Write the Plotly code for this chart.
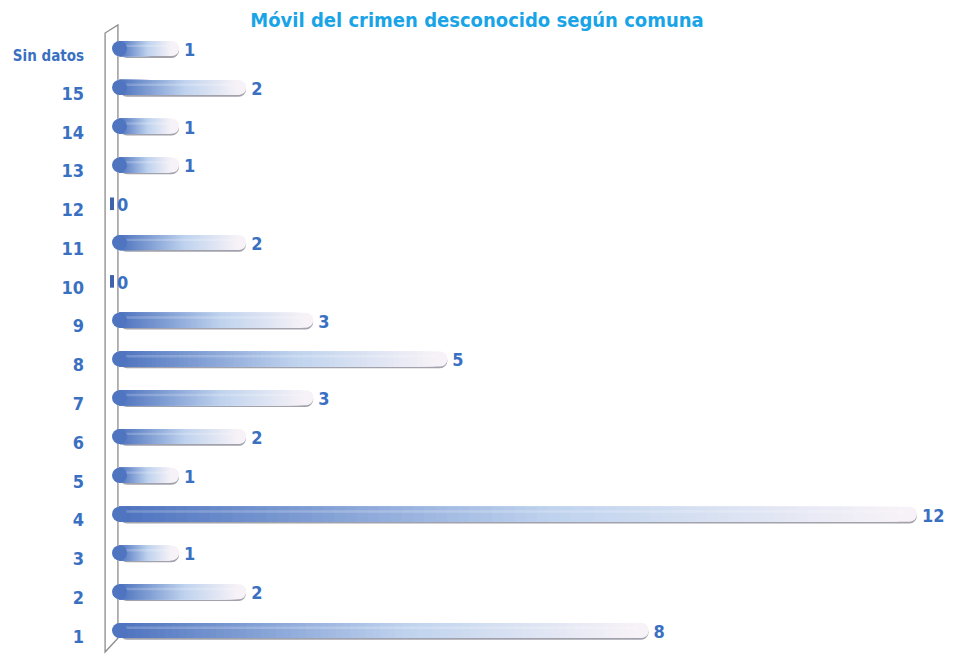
import plotly.graph_objects as go

categories = ["1", "2", "3", "4", "5", "6", "7", "8", "9", "10", "11", "12", "13", "14", "15", "Sin datos"]
values = [8, 2, 1, 12, 1, 2, 3, 5, 3, 0, 2, 0, 1, 1, 2, 1]
title_text = "Móvil del crimen desconocido según comuna"

label_color = "#3a70c2"
font_family = "DejaVu Sans Condensed, Liberation Sans Narrow, Arial Narrow, sans-serif"

dark = (76, 114, 190)
mid = (190, 210, 238)
light = (247, 242, 247)


def lerp(c1, c2, t):
    return tuple(round(a + (b - a) * t) for a, b in zip(c1, c2))


def grad(t):
    # t=0 -> left (dark), t=1 -> right (light)
    if t < 0.55:
        c = lerp(dark, mid, t / 0.55)
    else:
        c = lerp(mid, light, (t - 0.55) / 0.45)
    return "rgb(%d,%d,%d)" % c


# page is shown with an 8px body margin, so the figure is 8px smaller
W, H = 945, 646
ML, MR, MT, MB = 104, 18, 21, 5
XMAX = 12.27
PX = (W - ML - MR) / XMAX          # pixels per unit on x
R = 7.5 / PX                       # bar end radius in data units
YR = [-0.322, 15.66]
PY = (H - MT - MB) / (YR[1] - YR[0])
BW = 15 / PY                       # bar thickness
UP = 6 / PY                        # bars sit above the label line
SH = 1.8 / PY                      # shadow drop

pos = list(range(len(categories)))
ybar = [p + UP for p in pos]
nz = [v > 0 for v in values]
tick_text = [c if c.isdigit() else '<span style="font-size:15px">' + c + "</span>" for c in categories]

fig = go.Figure()
common = dict(orientation="h", showlegend=False, hoverinfo="skip")

# grey shadow
fig.add_trace(go.Bar(y=[y - SH for y in ybar], x=[v - R if v > 0 else 0 for v in values],
                     base=R, width=BW,
                     marker=dict(color="rgba(100,100,118,0.6)", cornerradius="50%", line=dict(width=0)),
                     **common))

# lightest full-length bar with rounded right end
fig.add_trace(go.Bar(y=ybar, x=[v - R if v > 0 else 0 for v in values], base=R, width=BW,
                     marker=dict(color=grad(1.0), cornerradius="50%", line=dict(width=0)),
                     **common))

# gradient steps (square ends, stop before the rounded tip)
N = 70
for k in range(1, N):
    frac = 1 - k / N
    fig.add_trace(go.Bar(y=ybar, x=[(v - 2 * R) * frac if v > 0 else 0 for v in values],
                         base=R, width=BW,
                         marker=dict(color=grad(frac), line=dict(width=0)),
                         **common))

# glossy highlight streak
fig.add_trace(go.Bar(y=[y + BW * 0.18 for y in ybar],
                     x=[(v - 3 * R) if v > 0 else 0 for v in values], base=1.5 * R,
                     width=BW * 0.16,
                     marker=dict(color="rgba(255,255,255,0.2)", cornerradius="50%", line=dict(width=0)),
                     **common))

# rounded left caps
fig.add_trace(go.Scatter(
    x=[R for v in values if v > 0], y=[y for y, f in zip(ybar, nz) if f],
    mode="markers", marker=dict(symbol="circle", size=15, color=grad(0.02), line=dict(width=0)),
    showlegend=False, hoverinfo="skip", cliponaxis=False,
))

# tiny edge-on mark for zero values
fig.add_trace(go.Scatter(
    x=[0.0 for v in values if v == 0], y=[y for y, f in zip(ybar, nz) if not f],
    mode="markers", marker=dict(symbol="line-ns", size=9, line=dict(width=4, color="#3f62aa")),
    showlegend=False, hoverinfo="skip", cliponaxis=False,
))

# value labels
fig.add_trace(go.Scatter(
    x=[v + 5 / PX for v in values], y=[y - 3 / PY for y in ybar], mode="text",
    text=[str(v) for v in values], textposition="middle right",
    textfont=dict(family=font_family, size=18, color=label_color, weight="bold"),
    cliponaxis=False, showlegend=False, hoverinfo="skip",
))

fig.update_layout(
    barmode="overlay",
    width=W, height=H,
    margin=dict(l=ML, r=MR, t=MT, b=MB, autoexpand=False),
    paper_bgcolor="white",
    plot_bgcolor="white",
    title=dict(text=title_text, x=469 / W, xref="container", xanchor="center",
               y=1 - 12 / H, yref="container", yanchor="middle",
               font=dict(family=font_family, size=20, color="#18a4e6", weight="bold")),
    xaxis=dict(range=[0, XMAX], visible=False, fixedrange=True),
    yaxis=dict(range=YR, tickmode="array", tickvals=pos, ticktext=tick_text,
               showgrid=False, zeroline=False, showline=False,
               ticks="", ticklabelstandoff=27, automargin=False,
               tickfont=dict(family=font_family, size=18, color=label_color, weight="bold")),
    shapes=[
        dict(type="path", xref="paper", yref="paper",
             path="M -0.0084,-0.0048 L -0.0084,0.9935 L 0.0072,1.0065 L 0.0072,0.0175 Z",
             line=dict(color="#8c8c8c", width=1.3), fillcolor="rgba(0,0,0,0)", layer="below"),
    ],
)

fig.write_html("out.html")
